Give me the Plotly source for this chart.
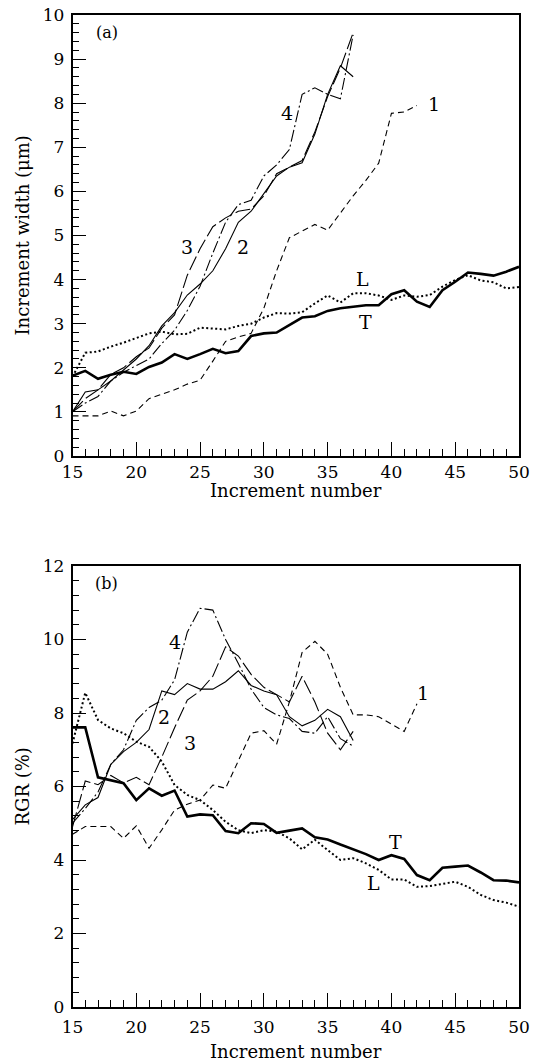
import plotly.graph_objects as go

# Increment numbers for each series
n_long = list(range(15, 51))      # T and L run 15..50
n_mid = list(range(15, 43))       # series 1 runs 15..42
n_short = list(range(15, 38))     # series 2, 3, 4 run 15..37

# (a) Increment width (µm)
width_T = [1.82, 1.93, 1.75, 1.84, 1.91, 1.86, 2.02, 2.12, 2.31, 2.20, 2.31, 2.43,
           2.33, 2.38, 2.72, 2.78, 2.80, 2.97, 3.14, 3.17, 3.29, 3.35, 3.39, 3.42,
           3.42, 3.67, 3.76, 3.50, 3.38, 3.76, 3.95, 4.16, 4.13, 4.09, 4.18, 4.29]
width_L = [1.80, 2.34, 2.37, 2.48, 2.57, 2.67, 2.78, 2.82, 2.76, 2.77, 2.91, 2.89,
           2.87, 2.95, 3.00, 3.14, 3.24, 3.23, 3.26, 3.46, 3.64, 3.48, 3.69, 3.69,
           3.64, 3.54, 3.64, 3.61, 3.65, 3.84, 3.99, 4.10, 3.98, 3.94, 3.80, 3.83]
width_1 = [0.91, 0.91, 0.91, 1.02, 0.91, 1.02, 1.30, 1.40, 1.50, 1.63, 1.72, 2.15,
           2.60, 2.70, 2.78, 3.35, 4.20, 4.95, 5.10, 5.25, 5.12, 5.50, 5.90, 6.25,
           6.64, 7.77, 7.80, 7.95]
width_2 = [1.00, 1.45, 1.50, 1.70, 1.95, 2.20, 2.50, 2.95, 3.25, 3.65, 3.90, 4.20,
           4.70, 5.30, 5.55, 5.95, 6.35, 6.55, 6.65, 7.30, 8.20, 8.85, 8.60]
width_3 = [1.00, 1.30, 1.50, 1.85, 2.00, 2.25, 2.45, 2.90, 3.20, 4.10, 4.70, 5.20,
           5.40, 5.55, 5.60, 5.90, 6.40, 6.55, 6.70, 7.35, 8.15, 8.80, 9.60]
width_4 = [1.00, 1.20, 1.35, 1.70, 1.90, 2.05, 2.20, 2.55, 2.85, 3.30, 3.85, 4.60,
           5.30, 5.70, 5.80, 6.35, 6.60, 6.95, 8.20, 8.35, 8.20, 8.10, 9.55]

# (b) Relative growth rate (%)
rgr_T = [7.61, 7.61, 6.25, 6.18, 6.09, 5.63, 5.95, 5.75, 5.89, 5.18, 5.24, 5.22,
         4.79, 4.73, 5.00, 4.98, 4.74, 4.80, 4.86, 4.62, 4.56, 4.42, 4.29, 4.16,
         4.00, 4.13, 4.03, 3.59, 3.45, 3.79, 3.82, 3.85, 3.66, 3.45, 3.44, 3.39]
rgr_L = [7.17, 8.55, 7.81, 7.58, 7.45, 7.22, 7.08, 6.68, 6.04, 5.77, 5.63, 5.36,
         5.04, 4.81, 4.73, 4.81, 4.77, 4.59, 4.29, 4.55, 4.27, 4.00, 4.05, 3.91,
         3.73, 3.47, 3.47, 3.27, 3.29, 3.35, 3.41, 3.27, 3.05, 2.91, 2.84, 2.73]
rgr_1 = [4.70, 4.91, 4.91, 4.91, 4.59, 4.93, 4.32, 4.82, 5.36, 5.52, 5.63, 6.04,
         5.95, 6.72, 7.45, 7.52, 7.15, 8.30, 9.65, 9.95, 9.60, 8.70, 7.95, 7.95,
         7.90, 7.70, 7.50, 8.25]
rgr_2 = [5.10, 5.50, 5.70, 6.60, 6.95, 7.20, 7.55, 8.60, 8.50, 8.80, 8.65, 8.65,
         8.85, 9.15, 8.75, 8.60, 8.50, 7.90, 7.65, 7.80, 8.10, 7.90, 7.25]
rgr_3 = [4.90, 6.15, 6.05, 6.30, 6.10, 6.25, 6.05, 6.80, 7.60, 8.35, 8.60, 9.00,
         9.80, 9.55, 9.05, 8.70, 8.50, 8.30, 9.00, 8.30, 7.45, 7.00, 7.50]
rgr_4 = [5.00, 5.40, 5.85, 6.60, 7.00, 7.80, 8.15, 8.35, 8.90, 10.20, 10.85, 10.80,
         10.00, 9.35, 8.65, 8.15, 7.95, 7.85, 7.50, 7.45, 7.90, 7.30, 7.10]

# Curve labels: (text, increment number, value)
labels_a = [("4", 31.85, 7.77), ("3", 24.0, 4.74), ("2", 28.4, 4.74),
            ("1", 43.3, 7.98), ("L", 37.7, 4.02), ("T", 38.0, 3.05)]
labels_b = [("4", 23.0, 9.94), ("2", 22.2, 7.9), ("3", 24.2, 7.18),
            ("1", 42.5, 8.54), ("T", 40.3, 4.5), ("L", 38.6, 3.38)]

SERIF = "DejaVu Serif"
INK = "black"

styles = {
    "T": dict(color=INK, width=2.6, dash="solid"),
    "L": dict(color=INK, width=2.0, dash="2px,2.5px"),
    "1": dict(color=INK, width=1.1, dash="6px,4px"),
    "2": dict(color=INK, width=1.1, dash="solid"),
    "3": dict(color=INK, width=1.1, dash="15px,4px"),
    "4": dict(color=INK, width=1.1, dash="12px,3px,2px,3px"),
}

fig = go.Figure()

def add_panel(xa, ya, series):
    for key, xs, ys in series:
        fig.add_trace(go.Scatter(x=xs, y=ys, mode="lines", line=styles[key],
                                 xaxis=xa, yaxis=ya, showlegend=False,
                                 hoverinfo="skip"))

add_panel("x", "y", [("1", n_mid, width_1), ("2", n_short, width_2),
                     ("3", n_short, width_3), ("4", n_short, width_4),
                     ("L", n_long, width_L), ("T", n_long, width_T)])
add_panel("x2", "y2", [("1", n_mid, rgr_1), ("2", n_short, rgr_2),
                       ("3", n_short, rgr_3), ("4", n_short, rgr_4),
                       ("L", n_long, rgr_L), ("T", n_long, rgr_T)])

annotations = []
for text, x, y in labels_a:
    annotations.append(dict(x=x, y=y, xref="x", yref="y", text=text, showarrow=False,
                            font=dict(family=SERIF, size=19, color=INK)))
for text, x, y in labels_b:
    annotations.append(dict(x=x, y=y, xref="x2", yref="y2", text=text, showarrow=False,
                            font=dict(family=SERIF, size=19, color=INK)))
annotations.append(dict(x=17.7, y=9.6, xref="x", yref="y", text="(a)", showarrow=False,
                        font=dict(family=SERIF, size=16, color=INK)))
annotations.append(dict(x=17.7, y=11.53, xref="x2", yref="y2", text="(b)", showarrow=False,
                        font=dict(family=SERIF, size=16, color=INK)))

W, H = 535, 1061
x_dom = [72.5 / W, 519 / W]
ya_dom = [1 - 456 / H, 1 - 15 / H]
yb_dom = [1 - 1007 / H, 1 - 566 / H]

titlefont = dict(family=SERIF, size=18, color=INK)
x_mid = (x_dom[0] + x_dom[1]) / 2

# Axis titles placed in figure coordinates
axis_titles = [
    dict(text="Increment number", x=x_mid, y=1 - 490 / H, textangle=0),
    dict(text="Increment number", x=x_mid, y=1 - 1051 / H, textangle=0),
    dict(text="Increment width (μm)", x=22 / W, y=(ya_dom[0] + ya_dom[1]) / 2, textangle=-90),
    dict(text="RGR (%)", x=22 / W, y=(yb_dom[0] + yb_dom[1]) / 2, textangle=-90),
]
for t in axis_titles:
    annotations.append(dict(xref="paper", yref="paper", showarrow=False,
                            xanchor="center", yanchor="middle", font=titlefont, **t))

tickfont = dict(family=SERIF, size=17, color=INK)

def xaxis_cfg(anchor, standoff):
    return dict(domain=x_dom, anchor=anchor, range=[15, 50], tickmode="array",
                tickvals=[15, 20, 25, 30, 35, 40, 45, 50], ticks="inside", ticklen=14,
                tickwidth=1.2, tickcolor=INK, showline=True, linewidth=1.5,
                linecolor=INK, mirror=True, showgrid=False, zeroline=False,
                tickfont=tickfont, automargin=False, ticklabelstandoff=standoff,
                minor=dict(dtick=1, tick0=15, ticks="inside", ticklen=7,
                           tickwidth=1.1, tickcolor=INK, showgrid=False))

def yaxis_cfg(anchor, dom, rng, dtick, minor):
    return dict(domain=dom, anchor=anchor, range=rng, dtick=dtick, tick0=0,
                ticks="inside", ticklen=14, tickwidth=1.2, tickcolor=INK,
                showline=True, linewidth=1.5, linecolor=INK, mirror=True,
                showgrid=False, zeroline=False, tickfont=tickfont, automargin=False,
                ticklabelstandoff=3,
                minor=dict(dtick=minor, tick0=0, ticks="inside", ticklen=7,
                           tickwidth=1.1, tickcolor=INK, showgrid=False))

fig.update_layout(
    width=W, height=H,
    margin=dict(l=0, r=0, t=0, b=0),
    paper_bgcolor="white", plot_bgcolor="white",
    xaxis=xaxis_cfg("y", 0),
    yaxis=yaxis_cfg("x", ya_dom, [0, 10], 1, 0.2),
    xaxis2=xaxis_cfg("y2", 4),
    yaxis2=yaxis_cfg("x2", yb_dom, [0, 12], 2, 0.4),
    annotations=annotations,
    showlegend=False,
)

fig.write_html("out.html")
